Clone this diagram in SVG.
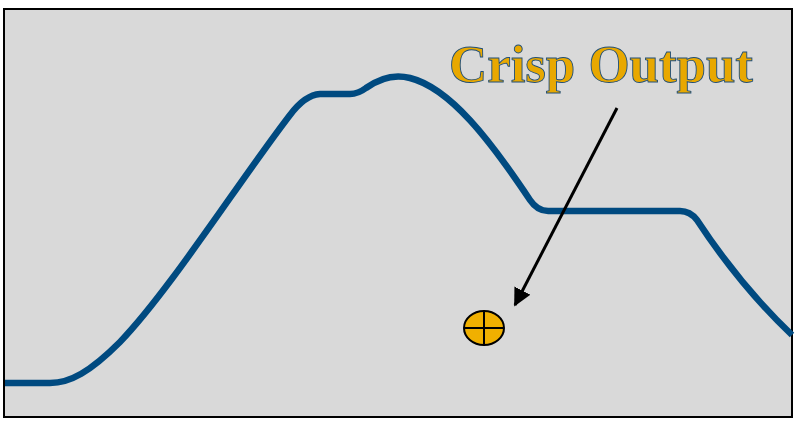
<svg xmlns="http://www.w3.org/2000/svg" width="797" height="426" viewBox="0 0 797 426">
<defs>
<style>
.frame{fill:#d9d9d9;stroke:#000;stroke-width:2}
.curve{fill:none;stroke:#004a80;stroke-width:6.5;stroke-linejoin:round}
.title{font-family:"Liberation Serif",serif;font-weight:bold;font-size:53px;fill:#e8a800;stroke:#1f4e79;stroke-width:0.9}
.arrow{stroke:#000;stroke-width:3;fill:none}
.dot{fill:#f0b000;stroke:#000;stroke-width:2}
</style>
<marker id="ah" viewBox="0 0 10 10" refX="9" refY="5" markerWidth="6" markerHeight="6" orient="auto" markerUnits="strokeWidth">
<path d="M0,0 L10,5 L0,10 z" fill="#000"/>
</marker>
</defs>
<rect class="frame" x="4" y="9" width="788" height="408"/>
<g id="membership-curve">
<path class="curve" d="M5,383 L50,383 C70,383 90,372 120,342 C170,290 240,180 290,115 Q305,95 320,94 L350,94 Q358,94 366,88 C380,78 395,74 410,78 C450,88 490,140 530,200 Q538,212 550,211 L680,211 Q690,211 697,220 C720,255 750,295 792,335"/>
</g>
<g id="label">
<text class="title" x="449" y="82" textLength="304">Crisp Output</text>
</g>
<g id="connectors">
<line class="arrow" x1="617" y1="108" x2="515" y2="305" marker-end="url(#ah)"/>
</g>
<g id="crisp-point">
<ellipse class="dot" cx="484" cy="328" rx="20" ry="17"/>
<line x1="464" y1="328" x2="504" y2="328" stroke="#000" stroke-width="2"/>
<line x1="484" y1="311" x2="484" y2="345" stroke="#000" stroke-width="2"/>
</g>
</svg>
